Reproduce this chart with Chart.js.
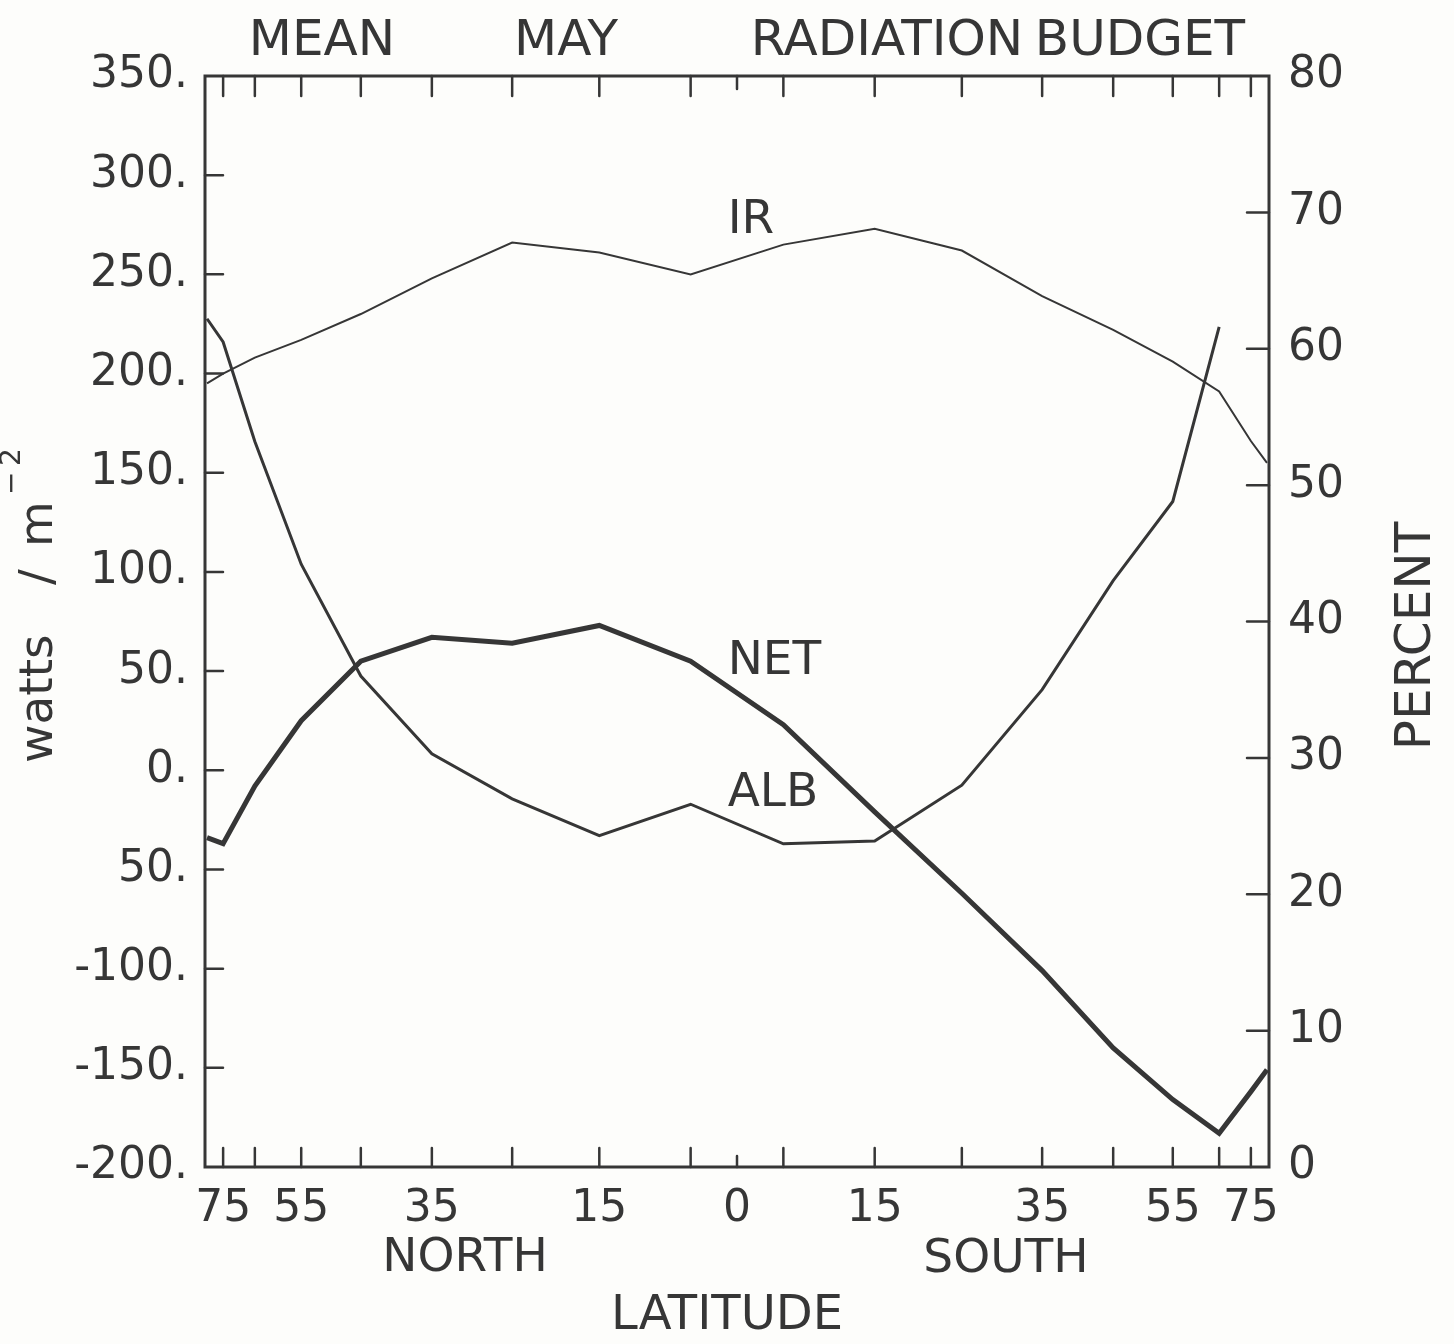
<!DOCTYPE html>
<html>
<head>
<meta charset="utf-8">
<title>Mean May Radiation Budget</title>
<script src="https://cdn.jsdelivr.net/npm/chart.js@4.4.1/dist/chart.umd.min.js"></script>
<style>
  html, body { margin: 0; padding: 0; background: #fdfdfb; }
  .wrap { width: 1454px; height: 1344px; position: relative; }
</style>
</head>
<body>
<div class="wrap"><canvas id="budgetChart"></canvas></div>
<script>
// zone centre latitudes, north positive, south negative
const latitudes = [85, 75, 65, 55, 45, 35, 25, 15, 5, -5, -15, -25, -35, -45, -55, -65, -75, -85];
// outgoing IR, W/m2
const irFlux = [195, 200, 208, 217, 230, 248, 266, 261, 250, 265, 273, 262, 239, 222, 206, 191, 166, 155];
// net radiation, W/m2
const netFlux = [-34, -37, -8, 25, 55, 67, 64, 73, 55, 23, -21, -62, -101, -140, -166, -183, -162, -151];
// albedo, percent (no data south of 65S)
const albedoPct = [62.2, 60.5, 53.2, 44.2, 36.0, 30.3, 27.0, 24.3, 26.6, 23.7, 23.9, 28.0, 35.0, 43.0, 48.8, 61.6];

const xLabelLats = [75, 55, 35, 15, 0, -15, -35, -55, -75];
const xTickLabels = ['75', '55', '35', '15', '0', '15', '35', '55', '75'];
const xMinorLats = [75, 65, 55, 45, 35, 25, 15, 5, -5, -15, -25, -35, -45, -55, -65, -75];
const wattTicks = [350, 300, 250, 200, 150, 100, 50, 0, -50, -100, -150, -200];
const wattTickLabels = ['350.', '300.', '250.', '200.', '150.', '100.', '50.', '0.', '50.', '-100.', '-150.', '-200.'];
const pctTicks = [80, 70, 60, 50, 40, 30, 20, 10, 0];

const ink = '#363636';
const fontName = '"DejaVu Sans", sans-serif';

// x axis is area weighted: position = sin(latitude)
function sinLat(lat) {
  return Math.sin(lat * Math.PI / 180);
}

const irPoints = latitudes.map((lat, i) => ({ x: sinLat(lat), y: irFlux[i] }));
const netPoints = latitudes.map((lat, i) => ({ x: sinLat(lat), y: netFlux[i] }));
const albPoints = albedoPct.map((v, i) => ({ x: sinLat(latitudes[i]), y: v }));

// frame, inward ticks and all the lettering
const decorPlugin = {
  id: 'decor',
  afterDraw(chart) {
    const ctx = chart.ctx;
    const a = chart.chartArea;
    const xs = chart.scales.x;
    const ys = chart.scales.y;
    const ps = chart.scales.yPct;
    ctx.save();
    ctx.strokeStyle = ink;
    ctx.fillStyle = ink;
    ctx.lineCap = 'round';

    ctx.lineWidth = 3;
    ctx.strokeRect(a.left, a.top, a.right - a.left, a.bottom - a.top);

    ctx.lineWidth = 2.5;
    ctx.beginPath();
    xMinorLats.forEach(lat => {
      const px = xs.getPixelForValue(sinLat(lat));
      ctx.moveTo(px, a.bottom); ctx.lineTo(px, a.bottom - 19);
      ctx.moveTo(px, a.top); ctx.lineTo(px, a.top + 20);
    });
    const eq = xs.getPixelForValue(0);
    ctx.moveTo(eq, a.bottom); ctx.lineTo(eq, a.bottom - 11);
    ctx.moveTo(eq, a.top); ctx.lineTo(eq, a.top + 13);
    wattTicks.slice(1, -1).forEach(v => {
      const py = ys.getPixelForValue(v);
      ctx.moveTo(a.left, py); ctx.lineTo(a.left + 18, py);
    });
    pctTicks.slice(1, -1).forEach(v => {
      const py = ps.getPixelForValue(v);
      ctx.moveTo(a.right, py); ctx.lineTo(a.right - 22, py);
    });
    ctx.stroke();

    ctx.textBaseline = 'alphabetic';
    ctx.textAlign = 'center';
    ctx.font = '50px ' + fontName;
    ctx.fillText('MEAN', 322, 55);
    ctx.fillText('MAY', 566, 55);
    ctx.fillText('RADIATION', 887, 55);
    ctx.fillText('BUDGET', 1140, 55);

    ctx.font = '47px ' + fontName;
    ctx.fillText('NORTH', 465, 1271);
    ctx.fillText('SOUTH', 1006, 1272);
    ctx.font = '48px ' + fontName;
    ctx.fillText('LATITUDE', 727, 1329);

    // curve names, placed in data units
    ctx.textAlign = 'left';
    ctx.font = '47px ' + fontName;
    const lx = xs.getPixelForValue(sinLat(1));
    ctx.fillText('IR', lx, ys.getPixelForValue(271));
    ctx.fillText('NET', lx, ys.getPixelForValue(48.5));
    ctx.fillText('ALB', lx, ys.getPixelForValue(-18));

    // left axis title
    ctx.save();
    ctx.translate(52, 0);
    ctx.rotate(-Math.PI / 2);
    ctx.font = '47px ' + fontName;
    ctx.fillText('watts', -763, 0);
    ctx.fillText('/', -585, 0);
    ctx.fillText('m', -547, 0);
    ctx.font = '28px ' + fontName;
    ctx.fillText('\u2212', -495, -32);
    ctx.fillText('2', -466, -32);
    ctx.restore();

    // right axis title
    ctx.save();
    ctx.translate(1430, 0);
    ctx.rotate(-Math.PI / 2);
    ctx.textAlign = 'center';
    ctx.font = '50px ' + fontName;
    ctx.fillText('PERCENT', -636, 0);
    ctx.restore();

    ctx.restore();
  }
};

Chart.defaults.font.family = fontName;
Chart.defaults.color = ink;

new Chart(document.getElementById('budgetChart'), {
  type: 'line',
  data: {
    datasets: [
      {
        label: 'IR',
        data: irPoints,
        yAxisID: 'y',
        borderColor: ink,
        borderWidth: 2,
        pointRadius: 0,
        tension: 0
      },
      {
        label: 'NET',
        data: netPoints,
        yAxisID: 'y',
        borderColor: ink,
        borderWidth: 5,
        pointRadius: 0,
        tension: 0
      },
      {
        label: 'ALB',
        data: albPoints,
        yAxisID: 'yPct',
        borderColor: ink,
        borderWidth: 3,
        pointRadius: 0,
        tension: 0
      }
    ]
  },
  options: {
    responsive: true,
    maintainAspectRatio: false,
    animation: false,
    layout: { padding: { top: 76, left: 0, right: 0, bottom: 0 } },
    plugins: {
      legend: { display: false },
      title: { display: false },
      tooltip: { enabled: false }
    },
    scales: {
      x: {
        type: 'linear',
        min: -1,
        max: 1,
        reverse: true,
        grid: { display: false },
        border: { display: false },
        afterBuildTicks(scale) {
          scale.ticks = xLabelLats.map(lat => ({ value: sinLat(lat) }));
        },
        afterFit(scale) { scale.height = 177; },
        ticks: {
          autoSkip: false,
          maxRotation: 0,
          padding: 8,
          font: { size: 44 },
          callback: (v, i) => xTickLabels[i]
        }
      },
      y: {
        position: 'left',
        min: -200,
        max: 350,
        grid: { display: false },
        border: { display: false },
        afterBuildTicks(scale) {
          scale.ticks = wattTicks.map(v => ({ value: v }));
        },
        afterFit(scale) { scale.width = 205; },
        ticks: {
          autoSkip: false,
          padding: 9,
          font: { size: 44 },
          callback: v => wattTickLabels[wattTicks.indexOf(v)]
        }
      },
      yPct: {
        position: 'right',
        min: 0,
        max: 80,
        grid: { display: false },
        border: { display: false },
        afterBuildTicks(scale) {
          scale.ticks = pctTicks.map(v => ({ value: v }));
        },
        afterFit(scale) { scale.width = 185; },
        ticks: {
          autoSkip: false,
          padding: 11,
          font: { size: 44 },
          callback: v => String(v)
        }
      }
    }
  },
  plugins: [decorPlugin]
});
</script>
</body>
</html>
